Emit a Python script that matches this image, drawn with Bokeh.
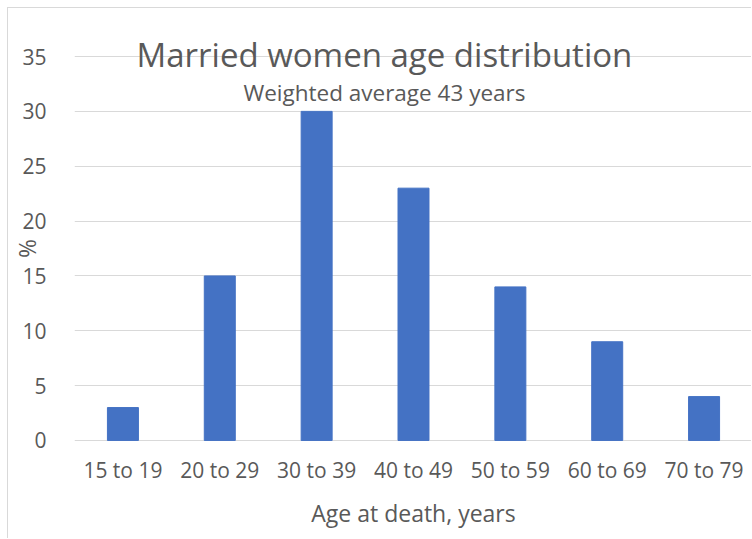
from bokeh.plotting import figure
from bokeh.models import Range1d, FactorRange, Label, ColumnDataSource
from bokeh.embed import file_html
from bokeh.resources import INLINE

categories = ["15 to 19", "20 to 29", "30 to 39", "40 to 49", "50 to 59", "60 to 69", "70 to 79"]
values = [3, 15, 30, 23, 14, 9, 4]
y_ticks = [0, 5, 10, 15, 20, 25, 30, 35]
title_text = "Married women age distribution"
subtitle_text = "Weighted average 43 years"
x_label = "Age at death, years"
y_label = "%"

FONT = "Open Sans"
TXT = "#595959"
GRID = "#d9d9d9"

src = ColumnDataSource(dict(cat=categories, val=values))

p = figure(width=744, height=531, output_backend="svg", toolbar_location=None,
           x_range=FactorRange(*categories, range_padding=0), y_range=Range1d(-3.65, 38.65),
           min_border_left=64, min_border_right=0, min_border_top=8, min_border_bottom=59)
p.outline_line_color = None
p.styles = {"margin-left": "7px", "margin-top": "7px",
            "border-left": "1px solid #d9d9d9", "border-top": "1px solid #d9d9d9"}

p.vbar(x="cat", top="val", width=0.32, source=src, fill_color="#4472C4", line_color="#4472C4")

p.xgrid.grid_line_color = None
p.ygrid.grid_line_color = GRID
p.ygrid.grid_line_width = 1
p.yaxis.ticker = y_ticks

for ax in (p.xaxis[0], p.yaxis[0]):
    ax.major_tick_line_color = None
    ax.minor_tick_line_color = None
    ax.major_label_text_color = TXT
    ax.major_label_text_font = FONT
    ax.major_label_text_font_size = "21px"
    ax.axis_label_text_color = TXT
    ax.axis_label_text_font = FONT
    ax.axis_label_text_font_size = "23px"
    ax.axis_label_text_font_style = "normal"

p.yaxis.axis_line_color = None
p.yaxis.major_label_standoff = 22
p.yaxis.axis_label = y_label
p.yaxis.axis_label_standoff = -24
p.xaxis.axis_line_color = None
p.xaxis.major_label_standoff = -31
p.xaxis.axis_label = x_label
p.xaxis.axis_label_standoff = 10

p.add_layout(Label(x=3.2, y=35.19, text=title_text, text_align="center", text_baseline="middle",
                   text_font=FONT, text_font_size="33px", text_color=TXT))
p.add_layout(Label(x=3.2, y=31.75, text=subtitle_text, text_align="center", text_baseline="middle",
                   text_font=FONT, text_font_size="22.5px", text_color=TXT))

open("out.html", "w").write(file_html(p, INLINE))
